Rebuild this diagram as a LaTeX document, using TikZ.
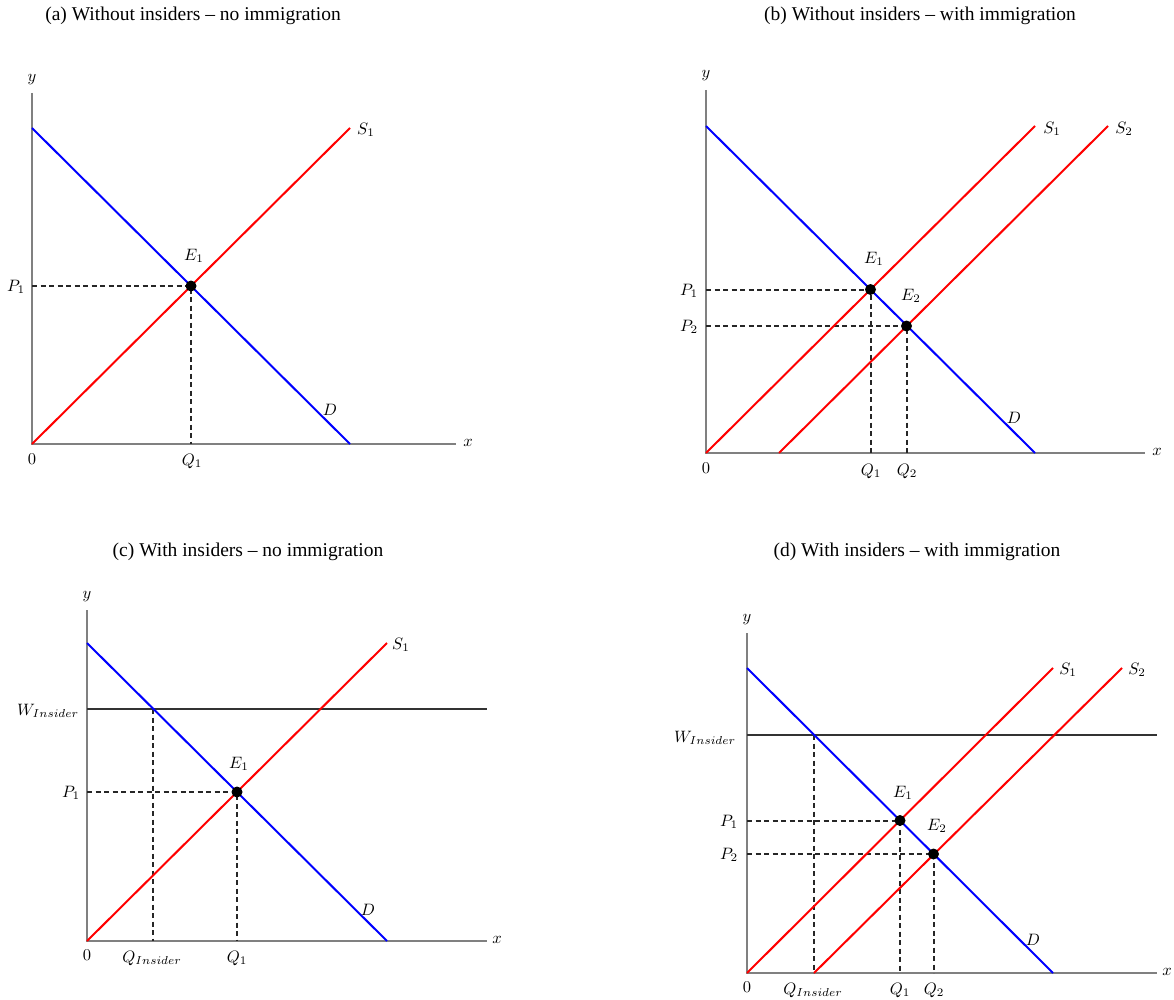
\documentclass[tikz,border=0pt]{standalone}
\usepackage{fontspec}
\setmainfont{Liberation Serif}
\begin{document}
\begin{tikzpicture}[x=1pt,y=-1pt,
  axis/.style={draw=black!50, line width=1.2pt},
  dem/.style={draw=blue, line width=2pt},
  sup/.style={draw=red, line width=2pt},
  guide/.style={draw=black!85, line width=1.3pt, dash pattern=on 5pt off 3.5pt},
  ins/.style={draw=black!80, line width=1.4pt},
  dot/.style={circle, fill=black, inner sep=0pt, minimum size=11pt},
  lab/.style={inner sep=0pt, scale=1.65},
  ttl/.style={inner sep=0pt, font=\fontsize{19.5}{22}\selectfont}]
\useasboundingbox (0,0) rectangle (1174,1000);

% ---------------- (a) ----------------
\node[ttl] (ta) at (193,16) {(a) Without insiders -- no immigration};
\coordinate (aO) at (32,444);
\coordinate (aYt) at (32,93);
\coordinate (aXr) at (456,444);
\coordinate (aDt) at (32,128);
\coordinate (aDb) at (350,444);
\coordinate (aSt) at (350,128);
\coordinate (aE1) at (191,286);
\draw[axis] (aYt) -- (aO) -- (aXr);
\draw[guide] (aO |- aE1) -- (aE1) -- (aO -| aE1);
\draw[dem] (aDt) -- (aDb);
\draw[sup] (aO) -- (aSt);
\node[dot] (aE1d) at (aE1) {};
\node[lab] (ay) at (32,80) {$y$};
\node[lab] (ax) at (468,443) {$x$};
\node[lab] (a0) at (32,459) {$0$};
\node[lab] (aS1l) at (366,130) {$S_1$};
\node[lab] (aDl) at (330,410) {$D$};
\node[lab] (aE1l) at (194,256) {$E_1$};
\node[lab] (aP1) at (16,287) {$P_1$};
\node[lab] (aQ1) at (192,461) {$Q_1$};

% ---------------- (b) ----------------
\node[ttl] (tb) at (920,16) {(b) Without insiders -- with immigration};
\coordinate (bO) at (706,453);
\coordinate (bYt) at (706,90);
\coordinate (bXr) at (1145,453);
\coordinate (bDt) at (706,126);
\coordinate (bDb) at (1035,453);
\coordinate (bS1t) at (1035,126);
\coordinate (bS2b) at (779,453);
\coordinate (bS2t) at (1108,126);
\coordinate (bE1) at (870.5,289.5);
\coordinate (bE2) at (906.5,326);
\draw[axis] (bYt) -- (bO) -- (bXr);
\draw[guide] (706,290) -- (871,290) -- (871,453);
\draw[guide] (706,326) -- (907,326) -- (907,453);
\draw[dem] (bDt) -- (bDb);
\draw[sup] (bO) -- (bS1t);
\draw[sup] (bS2b) -- (bS2t);
\node[dot] (bE1d) at (bE1) {};
\node[dot] (bE2d) at (bE2) {};
\node[lab] (by) at (706,76) {$y$};
\node[lab] (bx) at (1157,452) {$x$};
\node[lab] (b0) at (706,468) {$0$};
\node[lab] (bS1l) at (1052,129) {$S_1$};
\node[lab] (bS2l) at (1124,129) {$S_2$};
\node[lab] (bDl) at (1014,418) {$D$};
\node[lab] (bE1l) at (874,259) {$E_1$};
\node[lab] (bE2l) at (911,296) {$E_2$};
\node[lab] (bP1) at (689,291) {$P_1$};
\node[lab] (bP2) at (689,327) {$P_2$};
\node[lab] (bQ1) at (871,471) {$Q_1$};
\node[lab] (bQ2) at (907,471) {$Q_2$};

% ---------------- (c) ----------------
\node[ttl] (tc) at (248,552) {(c) With insiders -- no immigration};
\coordinate (cO) at (87,941);
\coordinate (cYt) at (87,610);
\coordinate (cXr) at (487,941);
\coordinate (cDt) at (87,643);
\coordinate (cDb) at (387,941);
\coordinate (cSt) at (387,643);
\coordinate (cWl) at (87,709);
\coordinate (cWr) at (487,709);
\coordinate (cQi) at (153,709);
\coordinate (cE1) at (237,792);
\draw[axis] (cYt) -- (cO) -- (cXr);
\draw[guide] (cO |- cE1) -- (cE1) -- (cO -| cE1);
\draw[guide] (cQi) -- (cO -| cQi);
\draw[ins] (cWl) -- (cWr);
\draw[dem] (cDt) -- (cDb);
\draw[sup] (cO) -- (cSt);
\node[dot] (cE1d) at (cE1) {};
\node[lab] (cy) at (87,597) {$y$};
\node[lab] (cx) at (497,940) {$x$};
\node[lab] (c0) at (87,955) {$0$};
\node[lab] (cS1l) at (401,645) {$S_1$};
\node[lab] (cDl) at (368,910) {$D$};
\node[lab] (cE1l) at (239,764) {$E_1$};
\node[lab] (cW) at (48,711) {$W_{Insider}$};
\node[lab] (cP1) at (71,793) {$P_1$};
\node[lab] (cQil) at (152,958) {$Q_{Insider}$};
\node[lab] (cQ1) at (237,958) {$Q_1$};

% ---------------- (d) ----------------
\node[ttl] (td) at (917,552) {(d) With insiders -- with immigration};
\coordinate (dO) at (747,973);
\coordinate (dYt) at (747,633);
\coordinate (dXr) at (1157,973);
\coordinate (dDt) at (747,668);
\coordinate (dDb) at (1053,973);
\coordinate (dS1t) at (1053,668);
\coordinate (dS2b) at (814,973);
\coordinate (dS2t) at (1122,668);
\coordinate (dWl) at (747,735);
\coordinate (dWr) at (1157,735);
\coordinate (dQi) at (814,735);
\coordinate (dE1) at (900,820.5);
\coordinate (dE2) at (933.5,854);
\draw[axis] (dYt) -- (dO) -- (dXr);
\draw[guide] (747,821) -- (900,821) -- (900,973);
\draw[guide] (747,854) -- (934,854) -- (934,973);
\draw[guide] (dQi) -- (dO -| dQi);
\draw[ins] (dWl) -- (dWr);
\draw[dem] (dDt) -- (dDb);
\draw[sup] (dO) -- (dS1t);
\draw[sup] (dS2b) -- (dS2t);
\node[dot] (dE1d) at (dE1) {};
\node[dot] (dE2d) at (dE2) {};
\node[lab] (dy) at (747,620) {$y$};
\node[lab] (dx) at (1167,972) {$x$};
\node[lab] (d0) at (747,987) {$0$};
\node[lab] (dS1l) at (1068,670) {$S_1$};
\node[lab] (dS2l) at (1137,670) {$S_2$};
\node[lab] (dDl) at (1033,940) {$D$};
\node[lab] (dE1l) at (903,793) {$E_1$};
\node[lab] (dE2l) at (937,826) {$E_2$};
\node[lab] (dW) at (705,738) {$W_{Insider}$};
\node[lab] (dP1) at (729,822) {$P_1$};
\node[lab] (dP2) at (729,855) {$P_2$};
\node[lab] (dQil) at (813,990) {$Q_{Insider}$};
\node[lab] (dQ1) at (900,990) {$Q_1$};
\node[lab] (dQ2) at (934,990) {$Q_2$};
\end{tikzpicture}
\end{document}
